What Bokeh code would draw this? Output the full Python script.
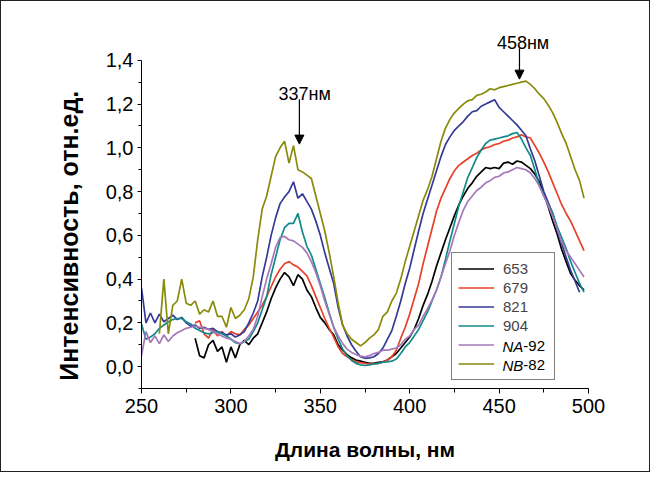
import numpy as np
from bokeh.plotting import figure
from bokeh.models import (FixedTicker, CustomJSTickFormatter, Legend, LegendItem,
                          Label, Arrow, NormalHead, Range1d)
from bokeh.embed import file_html
from bokeh.resources import INLINE

# ---------------- data ----------------
wl = np.arange(250, 500, 2.5)   # wavelength grid, nm (250 ... 497.5)

s653 = [None, None, None, None, None, None, None, None, None, None,
        None, None, 0.13, 0.05, 0.04, 0.10, 0.12, 0.07, 0.09, 0.02,
        0.09, 0.04, 0.10, 0.12, 0.10, 0.13, 0.15, 0.20, 0.25, 0.31,
        0.36, 0.40, 0.43, 0.41, 0.37, 0.42, 0.40, 0.35, 0.32, 0.27,
        0.225, 0.20, 0.17, 0.145, 0.10, 0.075, 0.055, 0.04, 0.03, 0.025,
        0.02, 0.015, 0.015, 0.02, 0.022, 0.03, 0.045, 0.06, 0.085, 0.11,
        0.135, 0.17, 0.22, 0.28, 0.33, 0.39, 0.46, 0.52, 0.58, 0.635,
        0.69, 0.74, 0.78, 0.815, 0.84, 0.87, 0.89, 0.91, 0.905, 0.91,
        0.905, 0.93, 0.935, 0.925, 0.94, 0.935, 0.92, 0.905, 0.88, 0.845,
        0.79, 0.73, 0.665, 0.605, 0.535, 0.48, 0.425, 0.395, 0.37, 0.35]

s679 = [None, None, None, None, None, None, None, None, None, None,
        None, None, 0.20, 0.21, 0.15, 0.13, 0.17, 0.14, 0.16, 0.14,
        0.16, 0.15, 0.145, 0.17, 0.19, 0.22, 0.25, 0.28, 0.32, 0.365,
        0.41, 0.445, 0.47, 0.48, 0.465, 0.455, 0.435, 0.415, 0.37, 0.32,
        0.27, 0.22, 0.175, 0.135, 0.09, 0.06, 0.045, 0.032, 0.022, 0.018,
        0.015, 0.012, 0.012, 0.015, 0.02, 0.03, 0.045, 0.075, 0.13, 0.18,
        0.24, 0.31, 0.38, 0.47, 0.55, 0.63, 0.71, 0.77, 0.815, 0.86,
        0.895, 0.92, 0.935, 0.95, 0.965, 0.975, 0.99, 1.0, 1.005, 1.015,
        1.02, 1.03, 1.035, 1.045, 1.05, 1.06, 1.05, 1.045, 1.01, 0.975,
        0.935, 0.89, 0.84, 0.79, 0.74, 0.70, 0.665, 0.62, 0.575, 0.53]

s821 = [0.36, 0.20, 0.245, 0.20, 0.24, 0.205, 0.22, 0.235, 0.215, 0.225,
        0.20, 0.185, 0.19, 0.175, 0.18, 0.17, 0.175, 0.16, 0.155, 0.145,
        0.15, 0.135, 0.145, 0.16, 0.20, 0.245, 0.30, 0.41, 0.50, 0.60,
        0.68, 0.745, 0.775, 0.80, 0.845, 0.77, 0.79, 0.755, 0.72, 0.665,
        0.60, 0.52, 0.45, 0.38, 0.27, 0.19, 0.14, 0.10, 0.07, 0.045,
        0.038, 0.04, 0.045, 0.06, 0.085, 0.125, 0.165, 0.23, 0.30, 0.38,
        0.45, 0.535, 0.62, 0.70, 0.765, 0.83, 0.895, 0.96, 1.015, 1.05,
        1.08, 1.10, 1.12, 1.145, 1.165, 1.17, 1.19, 1.20, 1.21, 1.22,
        1.185, 1.165, 1.145, 1.125, 1.105, 1.08, 1.055, 0.995, 0.94, 0.87,
        0.80, 0.75, 0.70, 0.625, 0.56, 0.50, 0.44, 0.39, 0.34, None]

s904 = [0.195, 0.125, 0.135, 0.15, 0.175, 0.19, 0.205, 0.215, 0.22, 0.22,
        0.205, 0.195, 0.175, 0.165, 0.155, 0.15, 0.155, 0.16, 0.15, 0.14,
        0.125, 0.11, 0.105, 0.115, 0.125, 0.16, 0.20, 0.26, 0.32, 0.42,
        0.50, 0.58, 0.635, 0.655, 0.655, 0.70, 0.615, 0.55, 0.51, 0.445,
        0.38, 0.315, 0.245, 0.18, 0.125, 0.08, 0.05, 0.028, 0.015, 0.008,
        0.005, 0.008, 0.012, 0.015, 0.02, 0.022, 0.025, 0.035, 0.06, 0.09,
        0.11, 0.14, 0.17, 0.21, 0.25, 0.30, 0.35, 0.41, 0.49, 0.575,
        0.655, 0.735, 0.80, 0.865, 0.91, 0.955, 0.99, 1.02, 1.035, 1.04,
        1.045, 1.05, 1.055, 1.065, 1.07, 1.04, 1.0, 0.965, 0.90, 0.83,
        0.78, 0.74, 0.70, 0.64, 0.59, 0.54, 0.48, 0.43, 0.38, 0.34]

sNA92 = [0.05, 0.16, 0.11, 0.14, 0.105, 0.145, 0.115, 0.14, 0.155, 0.165,
         0.175, 0.18, 0.185, 0.18, 0.175, 0.17, 0.16, 0.15, 0.14, 0.13,
         0.125, 0.115, 0.105, 0.115, 0.14, 0.17, 0.23, 0.32, 0.40, 0.47,
         0.545, 0.59, 0.595, 0.58, 0.575, 0.56, 0.545, 0.52, 0.48, 0.43,
         0.37, 0.30, 0.24, 0.18, 0.14, 0.105, 0.08, 0.065, 0.055, 0.048,
         0.045, 0.05, 0.06, 0.065, 0.075, 0.075, 0.08, 0.085, 0.10, 0.125,
         0.14, 0.17, 0.19, 0.23, 0.265, 0.305, 0.35, 0.41, 0.47, 0.53,
         0.60, 0.66, 0.715, 0.755, 0.78, 0.805, 0.82, 0.84, 0.85, 0.865,
         0.87, 0.885, 0.89, 0.90, 0.91, 0.905, 0.90, 0.885, 0.86, 0.825,
         0.78, 0.735, 0.685, 0.63, 0.57, 0.53, 0.50, 0.47, 0.44, 0.41]

sNB82 = [None, None, None, None, 0.15, 0.40, 0.15, 0.28, 0.30, 0.40,
         0.29, 0.28, 0.30, 0.24, 0.26, 0.25, 0.30, 0.23, 0.23, 0.18,
         0.27, 0.22, 0.235, 0.26, 0.31, 0.41, 0.58, 0.72, 0.78, 0.87,
         0.96, 1.0, 1.03, 0.93, 1.01, 0.90, 0.89, 0.875, 0.86, 0.78,
         0.70, 0.62, 0.52, 0.41, 0.29, 0.19, 0.15, 0.125, 0.11, 0.095,
         0.11, 0.13, 0.145, 0.17, 0.23, 0.25, 0.30, 0.335, 0.40, 0.48,
         0.55, 0.62, 0.69, 0.76, 0.81, 0.87, 0.95, 1.03, 1.09, 1.13,
         1.16, 1.18, 1.20, 1.215, 1.22, 1.24, 1.245, 1.255, 1.27, 1.265,
         1.275, 1.28, 1.285, 1.29, 1.295, 1.30, 1.305, 1.29, 1.27, 1.245,
         1.225, 1.195, 1.16, 1.115, 1.065, 1.02, 0.96, 0.90, 0.85, 0.77]

series_names = ["653", "679", "821", "904", "NA-92", "NB-82"]
series_vals = [s653, s679, s821, s904, sNA92, sNB82]
colors = ["#000000", "#E8402A", "#353A96", "#128A8A", "#A677BA", "#8A8A0A"]

x_ticks = [250, 300, 350, 400, 450, 500]
x_minor = [275, 325, 375, 425, 475]
y_ticks = [0.0, 0.2, 0.4, 0.6, 0.8, 1.0, 1.2, 1.4]
y_minor = [-0.1, 0.1, 0.3, 0.5, 0.7, 0.9, 1.1, 1.3]

peak_text = ["337нм", "458нм"]
peak_text_x = [341.3, 463.4]
peak_text_y = [1.245, 1.479]
arrow_x = [338.3, 461.4]
arrow_top = [1.222, 1.455]
arrow_tip = [1.017, 1.314]

FONT = "Liberation Sans"
X0, X1, Y0, Y1 = 250, 500, -0.1, 1.55
FW, FH = 447, 361            # frame size in px

def sx_to_data(px):          # frame-relative pixel offset -> data x
    return X0 + px * (X1 - X0) / FW

def sy_to_data(py):          # frame-relative pixel offset (from bottom) -> data y
    return Y0 + py * (Y1 - Y0) / FH

# ---------------- figure ----------------
p = figure(width=650, height=472,
           x_range=Range1d(X0, X1), y_range=Range1d(Y0, Y1),
           output_backend="svg", toolbar_location=None,
           min_border_left=140, min_border_right=63,
           min_border_top=26, min_border_bottom=85)
p.styles = {"border": "1px solid #222222"}
p.outline_line_color = None
p.xgrid.visible = False
p.ygrid.visible = False
p.background_fill_color = "white"
p.border_fill_color = "white"

renderers = []
for vals, col in zip(series_vals, colors):
    r = p.line(wl, np.array(vals, dtype=float), line_color=col, line_width=1.7)
    renderers.append(r)

# axes
xa = p.xaxis[0]
xa.ticker = FixedTicker(ticks=x_ticks, minor_ticks=x_minor)
xa.axis_label = "Длина волны, нм"
xa.axis_label_text_font = FONT
xa.axis_label_text_font_style = "bold"
xa.axis_label_text_font_size = "21px"
xa.axis_label_standoff = 22
xa.major_label_text_font = FONT
xa.major_label_text_font_size = "20px"
xa.major_label_standoff = 5

ya = p.yaxis[0]
ya.ticker = FixedTicker(ticks=y_ticks, minor_ticks=y_minor)
ya.formatter = CustomJSTickFormatter(code="return tick.toFixed(1).replace('.', ',');")
ya.bounds = (-0.1, 1.4)
ya.major_label_text_font = FONT
ya.major_label_text_font_size = "20px"
ya.major_label_standoff = 4
# trailing no-break spaces move the visible title down along the axis
ya.axis_label = "Интенсивность, отн.ед." + "\u00a0" * 8
ya.axis_label_text_font = FONT
ya.axis_label_text_font_style = "bold"
ya.axis_label_text_font_size = "25px"
ya.axis_label_standoff = 20

for ax, tout, mout in ((xa, 5, 4), (ya, 4, 3)):
    ax.axis_line_color = "black"
    ax.axis_line_width = 1
    ax.major_tick_in = 0
    ax.major_tick_out = tout
    ax.minor_tick_in = 0
    ax.minor_tick_out = mout
    ax.major_tick_line_color = "black"
    ax.minor_tick_line_color = "black"
    ax.major_label_text_color = "black"
    ax.axis_label_text_color = "black"

# legend
leg_labels = ["653", "679", "821", "904", " ", " "]
items = [LegendItem(label=lab, renderers=[r]) for lab, r in zip(leg_labels, renderers)]
legend = Legend(items=items, location=(310, 8),
                label_text_font=FONT, label_text_font_size="15px",
                glyph_width=36, glyph_height=19, label_height=19, label_width=45,
                label_standoff=9, padding=6, spacing=0, margin=0,
                border_line_color="black", border_line_width=1,
                background_fill_color="white", background_fill_alpha=0)
p.add_layout(legend)

# legend labels with italic prefix
for (pre, suf), yy in ((("NA", "-92"), 42.5), (("NB", "-82"), 23.5)):
    p.add_layout(Label(x=sx_to_data(361), y=sy_to_data(yy), text=pre,
                       text_font=FONT, text_font_style="italic", text_font_size="15px",
                       text_baseline="middle", text_align="left", text_color="black"))
    p.add_layout(Label(x=sx_to_data(381.8), y=sy_to_data(yy), text=suf,
                       text_font=FONT, text_font_size="15px",
                       text_baseline="middle", text_align="left", text_color="black"))

# peak annotations
for t, tx, ty, ax_, a0, a1 in zip(peak_text, peak_text_x, peak_text_y, arrow_x, arrow_top, arrow_tip):
    p.add_layout(Label(x=tx, y=ty, text=t, text_align="center", text_baseline="alphabetic",
                       text_font=FONT, text_font_size="18px", text_color="black"))
    p.add_layout(Arrow(end=NormalHead(size=9, fill_color="black", line_color="black", line_width=1),
                       x_start=ax_, y_start=a0, x_end=ax_, y_end=a1,
                       line_color="black", line_width=1.2))

open("out.html", "w").write(file_html(p, INLINE))
